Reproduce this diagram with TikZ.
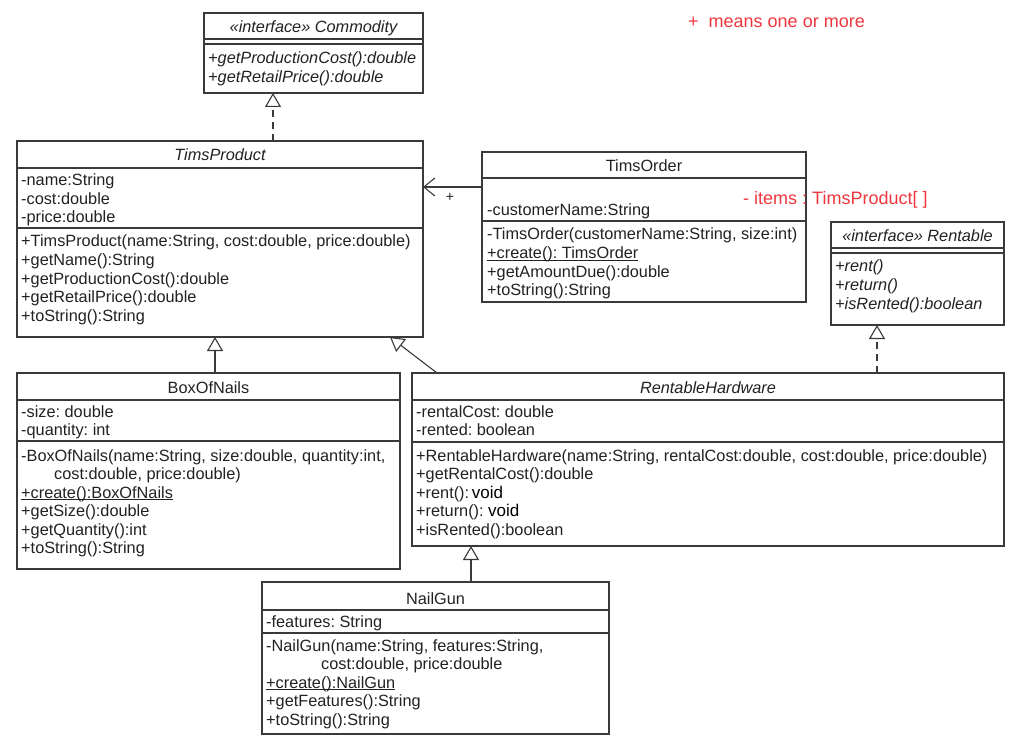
\documentclass[tikz,border=0pt]{standalone}
\usepackage{fontspec}
\setmainfont{Liberation Sans}
\usetikzlibrary{arrows.meta}
\frenchspacing
\definecolor{ln}{HTML}{3A3A3A}
\definecolor{tx}{HTML}{222222}
\definecolor{rd}{HTML}{F0373F}
\newcommand{\myul}[1]{\setbox0\hbox{#1}\rlap{\rule[-2.2pt]{\wd0}{0.9pt}}\box0}
\tikzset{
  box/.style={draw=ln, line width=1.1pt, anchor=north west, inner sep=0pt, outer sep=0pt},
  sepline/.style={draw=ln, line width=1.1pt},
  txt/.style={inner sep=0pt, anchor=base west, text=tx, font=\fontsize{16.3}{18.5}\selectfont},
  itxt/.style={txt, font=\fontsize{16.3}{18.5}\selectfont\itshape},
  hdr/.style={inner sep=0pt, anchor=base, text=tx, font=\fontsize{16.3}{18.5}\selectfont},
  ihdr/.style={hdr, font=\fontsize{16.3}{18.5}\selectfont\itshape},
  gen/.style={draw=ln, line width=1.1pt, -{Triangle[open, length=14pt, width=16pt]}},
  realz/.style={gen, dash pattern=on 7pt off 5pt},
  assoc/.style={draw=ln, line width=1.1pt, -{Straight Barb[length=11pt, width=18pt]}},
  note/.style={inner sep=0pt, anchor=base west, text=rd, font=\fontsize{18}{20}\selectfont},
}
\newcommand{\rowsat}[5]{%
  \foreach \t [count=\i] in {#5}{%
    \node[#4] (#1\i) at ({#2},{#3+18.5*(\i-1)}) {\t};}}
\begin{document}
\begin{tikzpicture}[x=1pt, y=-1pt]
\fill[white] (0,0) rectangle (1025,751);
\useasboundingbox (0,0) rectangle (1025,751);

% ---------- Commodity ----------
\node[box, minimum width=219pt, minimum height=80pt] (com) at (204,13) {};
\draw[sepline] (204,39) -- (423,39);
\draw[sepline] (204,44) -- (423,44);
\node[ihdr] (comh) at (313.5,33) {«interface» Commodity};
\rowsat{comm}{208}{64}{itxt}{+getProductionCost():double, +getRetailPrice():double}

% ---------- TimsProduct ----------
\node[box, minimum width=406pt, minimum height=196pt] (tp) at (17,141) {};
\draw[sepline] (17,168) -- (423,168);
\draw[sepline] (17,228) -- (423,228);
\node[ihdr] (tph) at (220,161) {TimsProduct};
\rowsat{tpa}{21}{186}{txt}{-name:String, -cost:double, -price:double}
\rowsat{tpm}{21}{247}{txt}{{+TimsProduct(name:String, cost:double, price:double)}, +getName():String, +getProductionCost():double, +getRetailPrice():double, +toString():String}

% ---------- TimsOrder ----------
\node[box, minimum width=324pt, minimum height=150pt] (to) at (482,152) {};
\draw[sepline] (482,178) -- (806,178);
\draw[sepline] (482,221) -- (806,221);
\node[hdr] (toh) at (644,172) {TimsOrder};
\node[txt] (toa1) at (487,216) {-customerName:String};
\rowsat{tom}{487}{240}{txt}{{-TimsOrder(customerName:String, size:int)}, \myul{+create(): TimsOrder}, +getAmountDue():double, +toString():String}

% ---------- Rentable ----------
\node[box, minimum width=173pt, minimum height=103pt] (ren) at (831,222) {};
\draw[sepline] (831,248) -- (1004,248);
\draw[sepline] (831,253) -- (1004,253);
\node[ihdr] (renh) at (917.5,242) {«interface» Rentable};
\rowsat{renm}{835}{272}{itxt}{+rent(), +return(), +isRented():boolean}

% ---------- BoxOfNails ----------
\node[box, minimum width=383pt, minimum height=196pt] (bon) at (17,373) {};
\draw[sepline] (17,400) -- (400,400);
\draw[sepline] (17,441) -- (400,441);
\node[hdr] (bonh) at (208.5,393) {BoxOfNails};
\rowsat{bona}{21}{417}{txt}{-size: double, -quantity: int}
\rowsat{bonm}{21}{461}{txt}{{-BoxOfNails(name:String, size:double, quantity:int,}, {\hspace*{33pt}cost:double, price:double)}, \myul{+create():BoxOfNails}, +getSize():double, +getQuantity():int, +toString():String}

% ---------- RentableHardware ----------
\node[box, minimum width=592pt, minimum height=173pt] (rh) at (412,373) {};
\draw[sepline] (412,400) -- (1004,400);
\draw[sepline] (412,442) -- (1004,442);
\node[ihdr] (rhh) at (708,393) {RentableHardware};
\rowsat{rha}{416}{417}{txt}{-rentalCost: double, -rented: boolean}
\rowsat{rhm}{416}{461}{txt}{{+RentableHardware(name:String, rentalCost:double, cost:double, price:double)}, +getRentalCost():double, {+rent():\,\textcolor{black}{\fontsize{17}{18.5}\selectfont void}}, {+return():~\textcolor{black}{\fontsize{17}{18.5}\selectfont void}}, +isRented():boolean}

% ---------- NailGun ----------
\node[box, minimum width=347pt, minimum height=152pt] (ng) at (262,582) {};
\draw[sepline] (262,610) -- (609,610);
\draw[sepline] (262,633) -- (609,633);
\node[hdr] (ngh) at (435.5,604) {NailGun};
\node[txt] (nga1) at (266,627) {-features: String};
\rowsat{ngm}{266}{651}{txt}{{-NailGun(name:String, features:String,}, {\hspace*{55pt}cost:double, price:double}, \myul{+create():NailGun}, +getFeatures():String, +toString():String}

% ---------- anchors for connector ends ----------
\coordinate (c1) at (273,93);
\coordinate (c2) at (215,337);
\coordinate (c3) at (390,337);
\coordinate (c3s) at (437,373);
\coordinate (c4) at (877,325);
\coordinate (c5) at (471,546);
\coordinate (c6) at (423,187);

% ---------- connectors ----------
\draw[realz] (tp.north -| c1) -- (c1);
\draw[gen] (bon.north -| c2) -- (c2);
\draw[gen] (c3s) -- (c3);
\draw[realz] (rh.north -| c4) -- (c4);
\draw[gen] (ng.north -| c5) -- (c5);
\draw[assoc] (to.west |- c6) -- (c6);
\node[inner sep=0pt, text=tx, font=\fontsize{14}{16}\selectfont] (plus) at (450,197) {+};

% ---------- notes ----------
\node[note] (n1) at (688,28) {+\ \ means one or more};
\node[note] (n2) at (743,205) {- items : TimsProduct[ ]};
\end{tikzpicture}
\end{document}
